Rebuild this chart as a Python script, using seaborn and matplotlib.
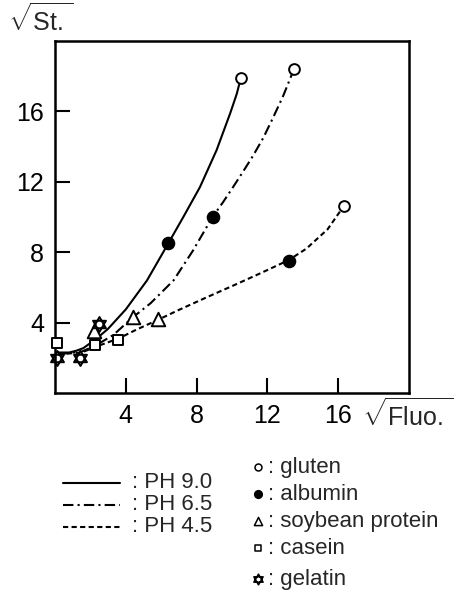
import numpy as np
import pandas as pd
import matplotlib
matplotlib.use("Agg")
import matplotlib.pyplot as plt
import seaborn as sns
from matplotlib.path import Path

# ---- curve traces ----
ph90_x = [0.2, 0.8, 1.2, 1.6, 2.3, 3.0, 4.0, 5.2, 6.4, 7.25, 8.19, 9.13, 9.9, 10.27, 10.5]
ph90_y = [2.3, 2.3, 2.4, 2.55, 3.05, 3.65, 4.75, 6.4, 8.5, 10.0, 11.7, 13.8, 15.9, 17.0, 17.9]
ph65_x = [0.2, 1.5, 2.3, 3.3, 4.4, 5.4, 6.7, 7.8, 8.9, 9.5, 10.06, 10.64, 11.2, 11.77, 12.3, 12.9, 13.5]
ph65_y = [2.2, 2.35, 2.7, 3.3, 4.3, 5.1, 6.4, 8.1, 10.0, 10.85, 11.7, 12.6, 13.5, 14.5, 15.6, 16.9, 18.4]
ph45_x = [0.2, 1.5, 2.5, 3.6, 4.6, 5.8, 7.06, 8.6, 10.06, 11.6, 13.2, 14.2, 15.4, 16.3]
ph45_y = [2.2, 2.3, 2.7, 3.1, 3.6, 4.15, 4.75, 5.45, 6.1, 6.8, 7.55, 8.2, 9.3, 10.6]

# ---- measured points ----
gluten_x = [10.5, 13.5, 16.3]
gluten_y = [17.9, 18.4, 10.6]
albumin_x = [6.4, 8.9, 13.2]
albumin_y = [8.5, 10.0, 7.5]
soy_x = [2.2, 4.4, 5.8]
soy_y = [3.5, 4.3, 4.2]
casein_x = [0.1, 2.25, 3.55]
casein_y = [2.85, 2.75, 3.0]
gelatin_x = [0.1, 1.4, 2.5]
gelatin_y = [2.0, 2.0, 3.9]

ph_labels = ["PH 9.0", "PH 6.5", "PH 4.5"]
protein_labels = ["gluten", "albumin", "soybean protein", "casein", "gelatin"]
x_ticks = [4, 8, 12, 16]
y_ticks = [4, 8, 12, 16]

sns.set_theme(style="white")
plt.rcParams["font.family"] = ["Liberation Sans", "DejaVu Sans"]
plt.rcParams["mathtext.fontset"] = "custom"
plt.rcParams["mathtext.rm"] = "Liberation Sans"

fig = plt.figure(figsize=(4.71, 5.99), dpi=100)
ax = fig.add_axes([55 / 471, 206 / 599, 354 / 471, 352 / 599])

curves = pd.concat([
    pd.DataFrame({"x": ph90_x, "y": ph90_y, "ph": ph_labels[0]}),
    pd.DataFrame({"x": ph65_x, "y": ph65_y, "ph": ph_labels[1]}),
    pd.DataFrame({"x": ph45_x, "y": ph45_y, "ph": ph_labels[2]}),
])
dashes = {ph_labels[0]: "", ph_labels[1]: (5, 2, 1, 2), ph_labels[2]: (2.5, 1.6)}
sns.lineplot(data=curves, x="x", y="y", style="ph", dashes=dashes, units="ph",
             estimator=None, sort=False, color="black", linewidth=1.5,
             legend=False, ax=ax, zorder=2)
for ln in ax.get_lines():
    ln.set_solid_joinstyle("round")
    ln.set_dash_joinstyle("round")

star = Path([(0, 1), (-0.866, -0.5), (0.866, -0.5), (0, 1),
             (0, -1), (-0.866, 0.5), (0.866, 0.5), (0, -1)],
            [Path.MOVETO, Path.LINETO, Path.LINETO, Path.CLOSEPOLY,
             Path.MOVETO, Path.LINETO, Path.LINETO, Path.CLOSEPOLY])

pts = [
    (gluten_x, gluten_y, "o", "white", 60),
    (albumin_x, albumin_y, "o", "black", 70),
    (soy_x, soy_y, "^", "white", 95),
    (casein_x, casein_y, "s", "white", 60),
    (gelatin_x, gelatin_y, star, "white", 115),
]
for xs, ys, m, fc, s in pts:
    sns.scatterplot(x=xs, y=ys, marker=m, s=s, facecolor=fc, edgecolor="black",
                    linewidth=1.4, ax=ax, zorder=3, clip_on=False)

ax.set_xlim(0, 20)
ax.set_ylim(0, 20)
ax.set_xticks(x_ticks)
ax.set_yticks(y_ticks)
ax.set_xticklabels([str(t) for t in x_ticks])
ax.set_yticklabels([str(t) for t in y_ticks])
ax.tick_params(axis="both", direction="in", length=11, width=1.5, labelsize=18,
               pad=8, color="black", labelcolor="black", bottom=True, left=True)
for sp in ax.spines.values():
    sp.set_color("black")
    sp.set_linewidth(1.8)
ax.set_xlabel("")
ax.set_ylabel("")

# overlay in pixel coordinates for annotations
ov = fig.add_axes([0, 0, 1, 1], zorder=5)
ov.set_xlim(0, 471)
ov.set_ylim(599, 0)
ov.axis("off")
ov.patch.set_alpha(0)

ov.text(8, 20, r"$\sqrt{\mathrm{St.}}$", fontsize=18, va="center", ha="left")
ov.text(362, 415, r"$\sqrt{\mathrm{Fluo.}}$", fontsize=18, va="center", ha="left")

leg_y = [483, 505, 527]
leg_dash = [None, (5, 2, 1, 2), (2.5, 1.6)]
for yy, lab, d in zip(leg_y, ph_labels, leg_dash):
    line, = ov.plot([63, 120], [yy, yy], color="black", linewidth=1.5)
    if d is not None:
        line.set_dashes(d)
    ov.text(132, yy, ": " + lab, fontsize=16, va="center", ha="left")

prot_y = [467, 494, 521, 548, 579]
prot_m = [("o", "white", 25), ("o", "black", 30), ("^", "white", 35),
          ("s", "white", 25), (star, "white", 60)]
for yy, lab, (m, fc, s) in zip(prot_y, protein_labels, prot_m):
    ov.scatter([258], [yy], marker=m, s=s, facecolor=fc, edgecolor="black", linewidth=1.1)
    ov.text(268, yy, ": " + lab, fontsize=16, va="center", ha="left")

fig.savefig("out.png", dpi=100, facecolor="white")
